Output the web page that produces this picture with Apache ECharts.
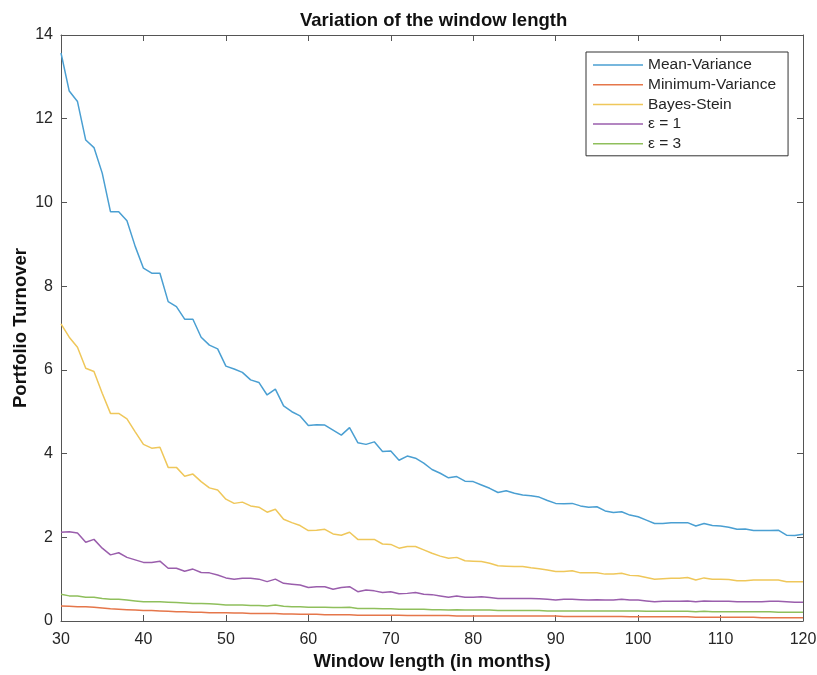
<!DOCTYPE html>
<html>
<head>
<meta charset="utf-8">
<script src="https://cdn.jsdelivr.net/npm/echarts@6/dist/echarts.min.js"></script>
<style>
  html, body { margin: 0; padding: 0; background: #fff; }
  #chart { width: 817px; height: 675px; }
</style>
</head>
<body>
<div id="chart"></div>
<script>
// window length in months: 30 .. 120
var months = [];
for (var m = 30; m <= 120; m++) months.push(m);

var meanVariance = [
  13.57, 12.66, 12.41, 11.49, 11.31, 10.70, 9.78, 9.78, 9.56, 8.95,
  8.43, 8.31, 8.31, 7.63, 7.51, 7.21, 7.21, 6.78, 6.59, 6.50,
  6.09, 6.02, 5.94, 5.76, 5.70, 5.40, 5.54, 5.14, 5.00, 4.90,
  4.67, 4.69, 4.68, 4.56, 4.44, 4.62, 4.26, 4.22, 4.28, 4.05,
  4.06, 3.84, 3.94, 3.89, 3.77, 3.62, 3.53, 3.42, 3.45, 3.34,
  3.33, 3.25, 3.17, 3.07, 3.11, 3.05, 3.01, 2.99, 2.96, 2.88,
  2.81, 2.80, 2.81, 2.75, 2.72, 2.73, 2.63, 2.59, 2.61, 2.53,
  2.49, 2.41, 2.33, 2.33, 2.35, 2.35, 2.35, 2.27, 2.33, 2.28,
  2.27, 2.24, 2.19, 2.20, 2.16, 2.16, 2.16, 2.17, 2.05, 2.04,
  2.07
];
var minimumVariance = [
  0.36, 0.35, 0.34, 0.34, 0.33, 0.31, 0.29, 0.28, 0.27, 0.26,
  0.25, 0.25, 0.24, 0.23, 0.22, 0.22, 0.21, 0.21, 0.20, 0.20,
  0.20, 0.19, 0.19, 0.18, 0.18, 0.18, 0.18, 0.17, 0.17, 0.16,
  0.16, 0.16, 0.15, 0.15, 0.15, 0.15, 0.14, 0.14, 0.14, 0.14,
  0.14, 0.14, 0.13, 0.13, 0.13, 0.13, 0.13, 0.13, 0.12, 0.12,
  0.12, 0.12, 0.12, 0.12, 0.12, 0.12, 0.12, 0.12, 0.12, 0.12,
  0.12, 0.11, 0.11, 0.11, 0.11, 0.11, 0.11, 0.11, 0.11, 0.10,
  0.10, 0.10, 0.10, 0.10, 0.10, 0.10, 0.10, 0.09, 0.09, 0.09,
  0.09, 0.09, 0.09, 0.09, 0.09, 0.08, 0.08, 0.08, 0.08, 0.08,
  0.08
];
var bayesStein = [
  7.10, 6.78, 6.54, 6.04, 5.96, 5.44, 4.96, 4.96, 4.83, 4.52,
  4.22, 4.13, 4.15, 3.67, 3.67, 3.46, 3.51, 3.33, 3.18, 3.13,
  2.91, 2.81, 2.84, 2.75, 2.72, 2.60, 2.67, 2.43, 2.35, 2.28,
  2.16, 2.17, 2.19, 2.08, 2.05, 2.12, 1.95, 1.95, 1.95, 1.84,
  1.83, 1.74, 1.78, 1.78, 1.70, 1.62, 1.55, 1.50, 1.52, 1.44,
  1.43, 1.42, 1.38, 1.32, 1.31, 1.30, 1.30, 1.27, 1.25, 1.22,
  1.18, 1.18, 1.20, 1.15, 1.15, 1.15, 1.12, 1.12, 1.14, 1.09,
  1.08, 1.04, 1.00, 1.01, 1.02, 1.02, 1.04, 0.98, 1.03, 1.00,
  1.00, 0.99, 0.96, 0.96, 0.98, 0.98, 0.98, 0.98, 0.94, 0.94,
  0.94
];
var eps1 = [
  2.12, 2.13, 2.10, 1.88, 1.95, 1.74, 1.58, 1.63, 1.52, 1.46,
  1.40, 1.40, 1.43, 1.26, 1.26, 1.19, 1.24, 1.16, 1.15, 1.10,
  1.03, 1.00, 1.02, 1.02, 1.00, 0.94, 1.00, 0.90, 0.88, 0.86,
  0.80, 0.82, 0.82, 0.76, 0.80, 0.82, 0.70, 0.74, 0.72, 0.68,
  0.70, 0.65, 0.66, 0.68, 0.64, 0.63, 0.60, 0.57, 0.60, 0.57,
  0.57, 0.58, 0.56, 0.54, 0.54, 0.54, 0.54, 0.54, 0.53, 0.52,
  0.50, 0.52, 0.52, 0.51, 0.50, 0.51, 0.50, 0.50, 0.52, 0.50,
  0.50, 0.48, 0.46, 0.47, 0.47, 0.47, 0.48, 0.46, 0.48, 0.47,
  0.47, 0.47, 0.46, 0.46, 0.46, 0.46, 0.47, 0.47, 0.46, 0.45,
  0.45
];
var eps3 = [
  0.64, 0.60, 0.60, 0.57, 0.57, 0.54, 0.52, 0.52, 0.50, 0.48,
  0.46, 0.46, 0.46, 0.45, 0.44, 0.43, 0.42, 0.42, 0.41, 0.40,
  0.38, 0.38, 0.38, 0.37, 0.37, 0.36, 0.38, 0.35, 0.34, 0.34,
  0.33, 0.33, 0.33, 0.32, 0.32, 0.33, 0.30, 0.30, 0.30, 0.29,
  0.29, 0.28, 0.28, 0.28, 0.28, 0.27, 0.27, 0.26, 0.27, 0.26,
  0.26, 0.26, 0.26, 0.25, 0.25, 0.25, 0.25, 0.25, 0.25, 0.24,
  0.24, 0.24, 0.24, 0.24, 0.24, 0.24, 0.24, 0.24, 0.24, 0.24,
  0.24, 0.23, 0.23, 0.23, 0.23, 0.23, 0.23, 0.22, 0.23, 0.22,
  0.22, 0.22, 0.22, 0.22, 0.22, 0.22, 0.22, 0.21, 0.21, 0.21,
  0.21
];

var seriesNames = ['Mean-Variance', 'Minimum-Variance', 'Bayes-Stein', 'ε = 1', 'ε = 3'];
var seriesValues = [meanVariance, minimumVariance, bayesStein, eps1, eps3];
var seriesColors = ['#4a9fd2', '#e5764a', '#efc75a', '#9a5eac', '#8fbf5c'];

var font = '"Liberation Sans", Arial, sans-serif';
var ink = '#262626';

function pairs(values) {
  return months.map(function (m, i) { return [m, values[i]]; });
}

var chart = echarts.init(document.getElementById('chart'));

// box axes, ticks pointing inward like matlab
var xBase = {
  type: 'value', min: 30, max: 120, interval: 10,
  axisLine: { show: true, onZero: false, lineStyle: { color: '#555', width: 1 } },
  axisTick: { show: true, inside: true, length: 6, lineStyle: { color: '#555' } },
  splitLine: { show: false }
};
var yBase = {
  type: 'value', min: 0, max: 14, interval: 2,
  axisLine: { show: true, onZero: false, lineStyle: { color: '#555', width: 1 } },
  axisTick: { show: true, inside: true, length: 6, lineStyle: { color: '#555' } },
  splitLine: { show: false }
};

var option = {
  backgroundColor: '#fff',
  animation: false,
  title: {
    text: 'Variation of the window length',
    left: 300, top: 11, padding: 0,
    textStyle: { fontFamily: font, fontSize: 18.5, fontWeight: 'bold', color: '#111' }
  },
  grid: { left: 61, right: 14, top: 35, bottom: 54, outerBoundsMode: 'none' },
  legend: {
    orient: 'vertical',
    left: 586, top: 52,
    padding: [5, 12, 4, 7],
    itemGap: 3.7,
    itemWidth: 50,
    itemHeight: 1.5,
    icon: 'rect',
    borderColor: '#333',
    borderWidth: 1,
    backgroundColor: '#fff',
    textStyle: { fontFamily: font, fontSize: 15.5, color: ink, lineHeight: 15 },
    data: seriesNames
  },
  xAxis: [
    Object.assign({}, xBase, {
      position: 'bottom',
      name: 'Window length (in months)',
      nameLocation: 'middle',
      nameGap: 31,
      nameMoveOverlap: false,
      nameTextStyle: { fontFamily: font, fontSize: 18.5, fontWeight: 'bold', color: '#111' },
      axisLabel: { fontFamily: font, fontSize: 16, color: ink, margin: 11 }
    }),
    Object.assign({}, xBase, { position: 'top', axisLabel: { show: false } })
  ],
  yAxis: [
    Object.assign({}, yBase, {
      position: 'left',
      name: 'Portfolio Turnover',
      nameLocation: 'middle',
      nameGap: 31,
      nameMoveOverlap: false,
      nameTextStyle: { fontFamily: font, fontSize: 18.5, fontWeight: 'bold', color: '#111' },
      axisLabel: { fontFamily: font, fontSize: 16, color: ink, margin: 8 }
    }),
    Object.assign({}, yBase, { position: 'right', axisLabel: { show: false } })
  ],
  series: seriesNames.map(function (name, i) {
    return {
      name: name,
      type: 'line',
      xAxisIndex: 0,
      yAxisIndex: 0,
      symbol: 'none',
      color: seriesColors[i],
      lineStyle: { width: 1.5, color: seriesColors[i] },
      data: pairs(seriesValues[i])
    };
  })
};
chart.setOption(option);
</script>
</body>
</html>
